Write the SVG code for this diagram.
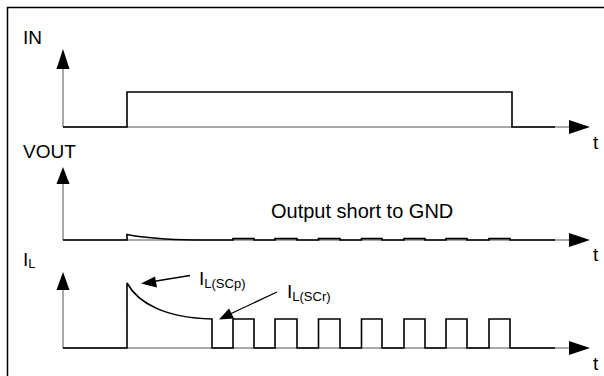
<svg xmlns="http://www.w3.org/2000/svg" width="604" height="376" viewBox="0 0 604 376">
<style>
.axis{stroke:#8c8c8c;stroke-width:1.5;fill:none}
.sig{stroke:#000;stroke-width:1.6;fill:none;stroke-linejoin:miter}
.lbl{font-family:"Liberation Sans",Arial,sans-serif;font-size:19px;fill:#000}
.sub{font-family:"Liberation Sans",Arial,sans-serif;font-size:13px;fill:#000}
.ah{fill:#000}
.ann{stroke:#000;stroke-width:1.3;fill:none}
</style>
<rect width="604" height="376" fill="#fff"/>
<path d="M7.5,376 V7.5 H604" stroke="#000" stroke-width="1.5" fill="none"/>

<g id="panel-in">
<path class="axis" d="M63,127 V66 M63,127 H572"/>
<path class="ah" d="M63,49 L56.5,69 L69.5,69 Z"/>
<path class="ah" d="M590,127 L569,120 L569,134 Z"/>
<path class="sig" d="M63,127 H127 V92 H512 V127 H555"/>
<text class="lbl" x="23" y="44">IN</text>
<text class="lbl" x="593" y="149">t</text>
</g>

<g id="panel-vout">
<path class="axis" d="M63,240 V180 M63,240 H572"/>
<path class="ah" d="M63,167 L56.5,184 L69.5,184 Z"/>
<path class="ah" d="M590,240 L569,233 L569,247 Z"/>
<path class="sig" d="M63,240 H127 V234.5 C140,237 160,239.5 195,240 H233 V238.6 H254 V240 H275 V238.6 H297 V240 H318.5 V238.6 H340 V240 H361.5 V238.6 H382 V240 H404 V238.6 H425 V240 H446 V238.6 H467 V240 H489 V238.6 H510 V240 H555"/>
<text class="lbl" x="23" y="158">VOUT</text>
<text class="lbl" x="271" y="218" style="font-size:20px">Output short to GND</text>
<text class="lbl" x="593" y="261">t</text>
</g>

<g id="panel-il">
<path class="axis" d="M63,348 V288 M63,348 H572"/>
<path class="ah" d="M63,272 L56.5,290 L69.5,290 Z"/>
<path class="ah" d="M590,348 L569,341 L569,355 Z"/>
<path class="sig" d="M63,348 H127 V283 C138,303 165,318 212,319 V348 H233 V319 H254 V348 H275 V319 H297 V348 H318.5 V319 H340 V348 H361.5 V319 H382 V348 H404 V319 H425 V348 H446 V319 H467 V348 H489 V319 H510 V348 H555"/>
<text class="lbl" x="23" y="266">I<tspan class="sub" dy="2">L</tspan></text>
<text class="lbl" x="593" y="370">t</text>
</g>

<g id="annot-scp">
<path class="ann" d="M190,275.5 L150,282"/>
<path class="ah" d="M141,283.5 L155,276.5 L157,287.5 Z"/>
<text class="lbl" x="199" y="285">I<tspan class="sub" dy="3">L(SCp)</tspan></text>
</g>

<g id="annot-scr">
<path class="ann" d="M277,292 L228,315"/>
<path class="ah" d="M219,319.5 L229,308.5 L234,318.5 Z"/>
<text class="lbl" x="287" y="298">I<tspan class="sub" dy="3">L(SCr)</tspan></text>
</g>
</svg>
